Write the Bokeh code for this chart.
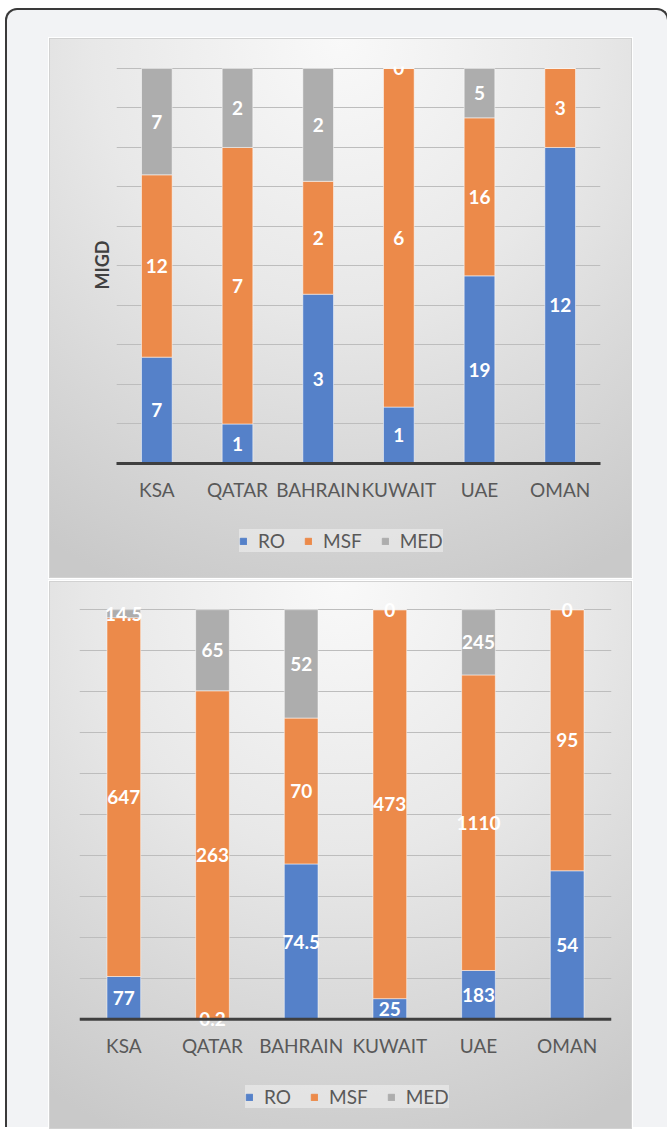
import numpy as np
from bokeh.plotting import figure
from bokeh.models import (ColumnDataSource, FactorRange, Range1d, FixedTicker,
                          Legend, LegendItem, Span)
from bokeh.layouts import column
from bokeh.core.properties import value
from bokeh.embed import file_html
from bokeh.resources import INLINE

# ---------------- data ----------------
countries = ["KSA", "QATAR", "BAHRAIN", "KUWAIT", "UAE", "OMAN"]
series = ["RO", "MSF", "MED"]

ro_top = [7, 1, 3, 1, 19, 12]
msf_top = [12, 7, 2, 6, 16, 3]
med_top = [7, 2, 2, 0, 5, None]

ro_bottom = [77, 0.2, 74.5, 25, 183, 54]
msf_bottom = [647, 263, 70, 473, 1110, 95]
med_bottom = [14.5, 65, 52, 0, 245, 0]

colors = ["#5581C9", "#EC8A4A", "#ADADAD"]
grid_ticks = [i / 10 for i in range(11)]

FONT = "Lato"
PANEL_BG = ("radial-gradient(ellipse 95% 110% at 50% 0%, #f9f9f9 0%, "
            "#e8e8e8 45%, #c9c9c9 100%)")


def bare(fig):
    fig.background_fill_alpha = 0
    fig.border_fill_alpha = 0
    fig.outline_line_color = None
    return fig


def make_chart(ro, msf, med, width, height, borders, y_range, ylabel,
               x_standoff, span_axis):
    vals = [ro, msf, [0 if v is None else v for v in med]]
    totals = [a + b + c for a, b, c in zip(*vals)]
    fracs = {s: [v / t for v, t in zip(vs, totals)] for s, vs in zip(series, vals)}
    src = ColumnDataSource(dict(country=countries, **fracs))

    top, right, bottom, left = borders
    p = bare(figure(x_range=FactorRange(*countries), y_range=Range1d(*y_range),
                    width=width, height=height, output_backend="svg",
                    toolbar_location=None, min_border_top=top,
                    min_border_right=right, min_border_bottom=bottom,
                    min_border_left=left))

    p.vbar_stack(series, x="country", width=0.38, color=colors,
                 source=src, line_color="white", line_width=1, line_alpha=0.5)

    # data labels
    lx, ly, lt = [], [], []
    raw = [ro, msf, med]
    for i, c in enumerate(countries):
        base = 0.0
        for s, rv in zip(series, raw):
            f = fracs[s][i]
            if rv[i] is not None:
                lx.append(c)
                ly.append(base + f / 2)
                lt.append(f"{rv[i]:g}")
            base += f
    lsrc = ColumnDataSource(dict(x=lx, y=ly, text=lt))
    p.text(x="x", y="y", text="text", source=lsrc, text_color="white",
           text_font=value(FONT), text_font_style="bold",
           text_font_size="19px", text_align="center",
           text_baseline="middle")

    p.xgrid.visible = False
    p.ygrid.ticker = FixedTicker(ticks=grid_ticks)
    p.ygrid.grid_line_color = "#bdbdbd"
    p.ygrid.grid_line_width = 1

    ax = p.xaxis[0]
    ax.major_tick_line_color = None
    ax.minor_tick_line_color = None
    ax.major_label_text_font = FONT
    ax.major_label_text_font_size = "19px"
    ax.major_label_text_color = "#595959"
    ax.major_label_standoff = x_standoff
    if span_axis:
        ax.axis_line_color = None
        p.add_layout(Span(location=0, dimension="width", line_color="#3f3f3f",
                          line_width=3))
    else:
        ax.axis_line_color = "#3f3f3f"
        ax.axis_line_width = 3

    ay = p.yaxis[0]
    if ylabel:
        ay.ticker = FixedTicker(ticks=[])
        ay.major_tick_line_color = None
        ay.minor_tick_line_color = None
        ay.axis_line_color = None
        ay.axis_label = ylabel
        ay.axis_label_text_font = FONT
        ay.axis_label_text_font_style = "bold"
        ay.axis_label_text_font_size = "18px"
        ay.axis_label_text_color = "#404040"
        ay.axis_label_standoff = 4
    else:
        ay.visible = False
    return p, src


def make_legend(src, width, height, loc):
    # legend keys come from the same stacked bars, kept out of this strip's view
    lf = bare(figure(width=width, height=height, output_backend="svg",
                     toolbar_location=None, x_range=FactorRange(*countries),
                     y_range=Range1d(5, 6), min_border=0))
    lf.axis.visible = False
    lf.grid.visible = False
    rs = lf.vbar_stack(series, x="country", width=0.38, color=colors,
                       source=src)
    legend = Legend(items=[LegendItem(label=s, renderers=[r])
                           for s, r in zip(series, rs)],
                    orientation="horizontal", location=loc,
                    label_text_font=FONT, label_text_font_size="19px",
                    label_text_color="#595959", glyph_width=8,
                    glyph_height=8, label_standoff=11, spacing=19,
                    padding=14, margin=0, background_fill_color="white",
                    background_fill_alpha=0.4, border_line_color=None)
    lf.add_layout(legend)
    return lf


PANEL_STYLE = {"background": PANEL_BG, "border": "1px solid #d2d2d2",
               "box-shadow": "0 0 0 1px #ffffff"}

c1, s1 = make_chart(ro_top, msf_top, med_top, 583, 470, (27, 31, 46, 66),
                    (0, 1.005), "MIGD", 8, False)
l1 = make_legend(s1, 583, 70, (123, 27))
c2, s2 = make_chart(ro_bottom, msf_bottom, med_bottom, 583, 479,
                    (19, 20, 30, 29), (-0.03, 1.02), None, -4, True)
l2 = make_legend(s2, 583, 69, (166, 22))

panel1 = column(c1, l1, width=583, height=540, margin=(28, 0, 0, 42),
                styles=PANEL_STYLE)
panel2 = column(c2, l2, width=583, height=548, margin=(3, 0, 0, 42),
                styles=PANEL_STYLE)

page = column(panel1, panel2, width=664, height=1119, margin=(8, 0, 0, 5),
              styles={"background-color": "#f2f3f5",
                      "border": "2px solid #3a3a3a", "border-bottom": "none",
                      "border-radius": "12px 12px 0 0"})

open("out.html", "w").write(file_html(page, INLINE))
